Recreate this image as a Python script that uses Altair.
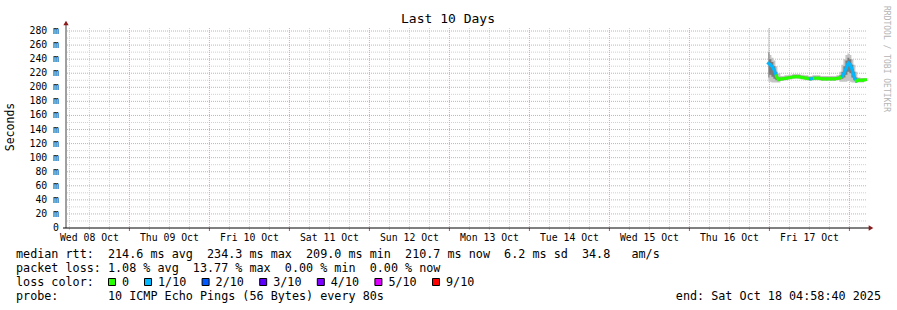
import altair as alt
import pandas as pd

# ---------------- data ----------------
times = [
    "2025-10-16T23:42:00Z", "2025-10-17T00:18:00Z", "2025-10-17T00:54:00Z",
    "2025-10-17T01:30:00Z", "2025-10-17T02:06:00Z", "2025-10-17T02:42:00Z",
    "2025-10-17T03:54:00Z", "2025-10-17T05:06:00Z", "2025-10-17T06:18:00Z",
    "2025-10-17T07:30:00Z", "2025-10-17T08:42:00Z", "2025-10-17T09:54:00Z",
    "2025-10-17T11:06:00Z", "2025-10-17T12:18:00Z", "2025-10-17T13:30:00Z",
    "2025-10-17T14:42:00Z", "2025-10-17T15:54:00Z", "2025-10-17T17:06:00Z",
    "2025-10-17T18:18:00Z", "2025-10-17T19:30:00Z", "2025-10-17T20:42:00Z",
    "2025-10-17T21:18:00Z", "2025-10-17T21:54:00Z", "2025-10-17T22:30:00Z",
    "2025-10-17T23:06:00Z", "2025-10-17T23:42:00Z", "2025-10-18T00:18:00Z",
    "2025-10-18T00:54:00Z", "2025-10-18T01:30:00Z", "2025-10-18T02:06:00Z",
    "2025-10-18T02:42:00Z", "2025-10-18T03:54:00Z", "2025-10-18T04:50:00Z",
]
median_ms = [234.0, 232.0, 229.0, 224.0, 216.0, 211.0, 212.0, 213.0, 214.0,
             215.0, 215.0, 214.0, 213.0, 212.0, 213.0, 213.0, 212.0, 212.0,
             212.0, 212.0, 213.0, 214.0, 216.0, 221.0, 228.0, 234.3, 232.0,
             224.0, 214.0, 209.0, 210.0, 210.0, 210.7]
loss = ["1/10", "1/10", "1/10", "1/10", "1/10", "0", "0", "0", "0",
        "0", "0", "0", "0", "0", "1/10", "0", "0", "0",
        "0", "0", "0", "0", "0", "1/10", "1/10", "1/10", "1/10",
        "1/10", "1/10", "1/10", "0", "0", "0"]
smoke_outer_lo = [208, 208, 207, 207, 207, 207, 209, 210, 211, 212, 212, 211,
                  210, 209, 210, 210, 209, 209, 209, 209, 210, 208, 208, 208,
                  208, 209, 208, 207, 207, 206, 207, 207, 208]
smoke_outer_hi = [284, 246, 242, 238, 230, 220, 216, 217, 218, 219, 219, 218,
                  217, 216, 217, 217, 216, 216, 216, 216, 217, 222, 232, 240,
                  246, 248, 246, 240, 232, 222, 214, 213, 213]
smoke_inner_lo = [214, 218, 215, 212, 210, 209, 211, 212, 213, 214, 214, 213,
                  212, 211, 212, 212, 211, 211, 211, 211, 212, 211, 212, 214,
                  218, 222, 220, 214, 210, 208, 209, 209, 209]
smoke_inner_hi = [250, 240, 236, 230, 222, 214, 214, 215, 216, 217, 217, 216,
                  215, 214, 215, 215, 214, 214, 214, 214, 215, 217, 222, 230,
                  238, 242, 240, 232, 222, 214, 212, 212, 212]

loss_labels = ["0", "1/10", "2/10", "3/10", "4/10", "5/10", "9/10"]
loss_colors = ["#26ff00", "#00b8ff", "#0059ff", "#5e00ff", "#7e00ff", "#dd00ff", "#ff0000"]

y_major = list(range(20, 281, 20))
y_minor = list(range(10, 281, 20))
y_tick_values = list(range(0, 281, 20))
y_tick_labels = ["0", "20 m", "40 m", "60 m", "80 m", "100 m", "120 m", "140 m",
                 "160 m", "180 m", "200 m", "220 m", "240 m", "260 m", "280 m"]

x_tick_values = ["2025-10-08T12:00:00Z", "2025-10-09T12:00:00Z", "2025-10-10T12:00:00Z",
                 "2025-10-11T12:00:00Z", "2025-10-12T12:00:00Z", "2025-10-13T12:00:00Z",
                 "2025-10-14T12:00:00Z", "2025-10-15T12:00:00Z", "2025-10-16T12:00:00Z",
                 "2025-10-17T12:00:00Z"]
x_tick_labels = ["Wed 08 Oct", "Thu 09 Oct", "Fri 10 Oct", "Sat 11 Oct", "Sun 12 Oct",
                 "Mon 13 Oct", "Tue 14 Oct", "Wed 15 Oct", "Thu 16 Oct", "Fri 17 Oct"]

title_text = "Last 10 Days"
y_title = "Seconds"
line_rtt = "median rtt:  214.6 ms avg  234.3 ms max  209.0 ms min  210.7 ms now  6.2 ms sd  34.8   am/s"
line_loss = "packet loss: 1.08 % avg  13.77 % max  0.00 % min  0.00 % now"
line_color = "loss color:"
line_probe = "probe:       10 ICMP Echo Pings (56 Bytes) every 80s"
line_end = "end: Sat Oct 18 04:58:40 2025"
watermark = "RRDTOOL / TOBI OETIKER"

start = pd.Timestamp("2025-10-08T04:58:40Z")
end = pd.Timestamp("2025-10-18T04:58:40Z")

# ---------------- build tables ----------------
df = pd.DataFrame({
    "t": times, "m": median_ms, "loss": loss,
    "olo": smoke_outer_lo, "ohi": smoke_outer_hi,
    "ilo": smoke_inner_lo, "ihi": smoke_inner_hi,
})
seg = pd.DataFrame({
    "t0": times[:-1], "t1": times[1:],
    "m0": median_ms[:-1], "m1": median_ms[1:],
    "loss": loss[1:],
})


def ms(ts):
    return int(ts.value // 10**6)


six_hours = pd.date_range("2025-10-08T06:00:00Z", "2025-10-18T00:00:00Z", freq="6h")
x_major = [ms(t) for t in six_hours if t.hour == 0]
x_minor = [ms(t) for t in six_hours if t.hour != 0]

one = pd.DataFrame({"k": [0]})

FONT = "DejaVu Sans Mono"
MAJ = "#e9a3a3"
MIN = "#d0d0d0"
NB = "\u00a0"
DASH = [1, 1]

xscale = alt.Scale(type="utc", domain=[ms(start), ms(end)])
yscale = alt.Scale(domain=[0, 284.3], nice=False, zero=True)


def xrules(values, color, y2=None):
    ch = alt.Chart(pd.DataFrame({"v": values}))
    if y2 is None:
        return ch.mark_rule(color=color, strokeDash=DASH, strokeWidth=1).encode(
            x=alt.X("v:T", scale=xscale, axis=None))
    return ch.mark_rule(color=color, strokeWidth=1).encode(
        x=alt.X("v:T", scale=xscale, axis=None), y=alt.value(200), y2=alt.value(y2))


def yrules(values, color):
    return alt.Chart(pd.DataFrame({"v": values})).mark_rule(
        color=color, strokeDash=DASH, strokeWidth=1).encode(
        y=alt.Y("v:Q", scale=yscale, axis=None))


grid = [
    xrules(x_minor, MIN), yrules(y_minor, MIN),
    xrules(x_major, MAJ), yrules(y_major, MAJ),
    xrules(x_minor, MIN, 202), xrules(x_major, "#d05050", 203),
]

# tick labels
xlab = alt.Chart(pd.DataFrame({"v": x_tick_values, "s": x_tick_labels})).mark_text(
    font=FONT, fontSize=9.8, align="center", baseline="middle", color="black").encode(
    x=alt.X("v:T", scale=xscale, axis=None), y=alt.value(210), text="s:N")
ylab = alt.Chart(pd.DataFrame({"v": y_tick_values, "s": y_tick_labels})).mark_text(
    font=FONT, fontSize=9.8, align="right", baseline="middle", color="black").encode(
    y=alt.Y("v:Q", scale=yscale, axis=None), x=alt.value(-7), text="s:N")

base = alt.Chart(df)
outer = base.mark_area(color="#c4c4c4", interpolate="step", clip=True).encode(
    x=alt.X("t:T", scale=xscale, axis=None),
    y=alt.Y("olo:Q", scale=yscale, axis=None),
    y2="ohi:Q",
)
inner = base.mark_area(color="#7a7a7a", interpolate="step", clip=True).encode(
    x=alt.X("t:T", scale=xscale, axis=None),
    y=alt.Y("ilo:Q", scale=yscale, axis=None),
    y2="ihi:Q",
)
core = base.mark_line(color="#303030", strokeWidth=1).encode(
    x=alt.X("t:T", scale=xscale, axis=None),
    y=alt.Y("m:Q", scale=yscale, axis=None),
)
median = alt.Chart(seg).mark_rule(strokeWidth=3, strokeCap="square").encode(
    x=alt.X("t0:T", scale=xscale, axis=None),
    x2="t1:T",
    y=alt.Y("m0:Q", scale=yscale, axis=None),
    y2="m1:Q",
    color=alt.Color("loss:N", scale=alt.Scale(domain=loss_labels, range=loss_colors), legend=None),
)

# axis lines with arrows
yline = alt.Chart(one).mark_rule(color="#404040", strokeWidth=1).encode(
    x=alt.value(0), y=alt.value(-5), y2=alt.value(200))
xline = alt.Chart(one).mark_rule(color="black", strokeWidth=1).encode(
    x=alt.value(-3), x2=alt.value(804), y=alt.value(200))
yarrow = alt.Chart(one).mark_point(shape="triangle-up", filled=True, color="#8b1a1a", size=28, opacity=1).encode(
    x=alt.value(0), y=alt.value(-5))
xarrow = alt.Chart(one).mark_point(shape="triangle-right", filled=True, color="#8b1a1a", size=28, opacity=1).encode(
    x=alt.value(805), y=alt.value(200))


def label(text, x, y, size=11.75, align="left", angle=0, color="black"):
    return alt.Chart(one).mark_text(
        text=text.replace(" ", NB), font=FONT, fontSize=size, align=align,
        baseline="middle", angle=angle, color=color,
    ).encode(x=alt.value(x), y=alt.value(y))


texts = [
    label(title_text, 382, -9, size=13, align="center"),
    label(y_title, -55, 99, size=11.5, align="center", angle=270),
    label(line_rtt, -50, 226),
    label(line_loss, -50, 240),
    label(line_color, -50, 254),
    label(line_probe, -50, 268),
    label(line_end, 815, 268, align="right"),
    label(watermark, 820, 31, size=8, align="center", angle=90, color="#b4b4b4"),
]

# loss colour legend (boxes + labels)
legend_layers = []
pos = 112 - 66
for lab, col in zip(loss_labels, loss_colors):
    legend_layers.append(
        alt.Chart(one).mark_square(size=49, color=col, stroke="black", strokeWidth=1, opacity=1).encode(
            x=alt.value(pos), y=alt.value(254)))
    legend_layers.append(label(lab, pos + 10, 254))
    pos += 7.2 * (len(lab) + 4)

chart = alt.layer(
    *grid, outer, inner, core, median, xlab, ylab,
    yline, xline, yarrow, xarrow, *texts, *legend_layers
).properties(
    width=800, height=200,
    autosize=alt.AutoSizeParams(type="none"),
    padding={"left": 66, "top": 28, "right": 31, "bottom": 82},
    background="white",
).configure_view(stroke=None)

chart.save("out.html", embed_options={"renderer": "svg", "actions": False})
